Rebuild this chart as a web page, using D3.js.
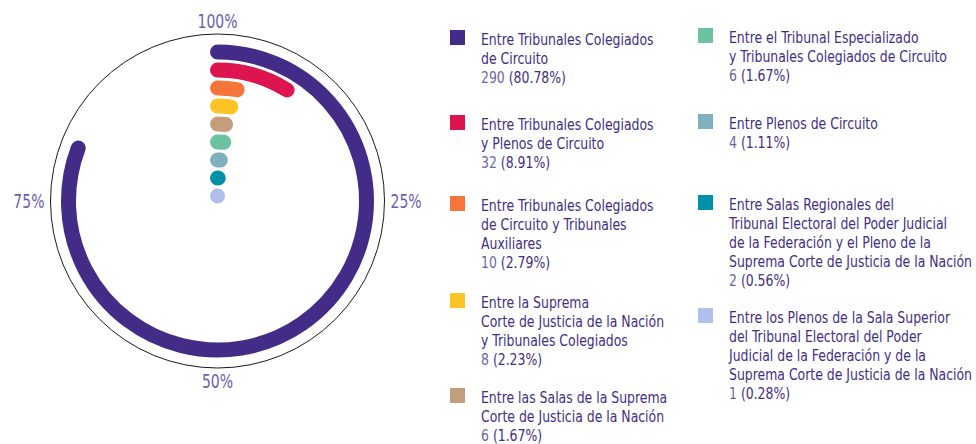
<!DOCTYPE html>
<html>
	<head>
		<meta charset="UTF-8">
		<script src="https://d3js.org/d3.v7.min.js"></script>
		<style>
			body { margin: 0; background: #fff; }
			text { font-family: "DejaVu Sans Condensed", "DejaVu Sans", sans-serif; font-stretch: condensed; }
		</style>
	</head>
	<body>
		<svg width="976" height="444"></svg>
		<script>
			// data
			var labels = [
				["Entre Tribunales Colegiados", "de Circuito"],
				["Entre Tribunales Colegiados", "y Plenos de Circuito"],
				["Entre Tribunales Colegiados", "de Circuito y Tribunales", "Auxiliares"],
				["Entre la Suprema", "Corte de Justicia de la Nación", "y Tribunales Colegiados"],
				["Entre las Salas de la Suprema", "Corte de Justicia de la Nación"],
				["Entre el Tribunal Especializado", "y Tribunales Colegiados de Circuito"],
				["Entre Plenos de Circuito"],
				["Entre Salas Regionales del", "Tribunal Electoral del Poder Judicial", "de la Federación y el Pleno de la", "Suprema Corte de Justicia de la Nación"],
				["Entre los Plenos de la Sala Superior", "del Tribunal Electoral del Poder", "Judicial de la Federación y de la", "Suprema Corte de Justicia de la Nación"]
			];
			var counts = [290, 32, 10, 8, 6, 6, 4, 2, 1];
			var percents = [80.78, 8.91, 2.79, 2.23, 1.67, 1.67, 1.11, 0.56, 0.28];
			var colors = ["#432c87", "#dc1450", "#f5753b", "#fec325", "#c49e7b", "#6cc29f", "#7eb0bd", "#0091aa", "#b3bfeb"];
			var tickValues = [0, 25, 50, 75];
			var tickLabels = ["100%", "25%", "50%", "75%"];

			// layout
			var cx = 217.5, cy = 201, R = 167;
			var barWidth = 15;
			var legendCols = [{sw: 450, tx: 481}, {sw: 698, tx: 730}];
			var legendRows = [45, 130, 211, 308, 403, 43, 129, 210, 323];
			var lineH = 19;
			var squeeze = 0.84;   // fake a condensed face

			var svg = d3.select("svg");

			var angle = d3.scaleLinear().domain([0, 100]).range([0, 2 * Math.PI]);
			var radius = d3.scalePoint().domain(d3.range(counts.length)).range([149, 5]);

			svg.append("circle")
				.attr("cx", cx).attr("cy", cy).attr("r", R)
				.attr("fill", "none").attr("stroke", "#1a1a1a").attr("stroke-width", 1);

			// bars as stroked arcs with round caps
			svg.append("g").selectAll("path")
				.data(percents)
				.enter().append("path")
				.attr("d", function(d, i) {
					var p = d3.path();
					var r = radius(i);
					p.arc(cx, cy, r, -Math.PI / 2, angle(d) - Math.PI / 2);
					return p.toString();
				})
				.attr("fill", "none")
				.attr("stroke", function(d, i) { return colors[i]; })
				.attr("stroke-width", barWidth)
				.attr("stroke-linecap", "round");

			// ticks around the circle
			svg.append("g").selectAll("text")
				.data(tickValues)
				.enter().append("text")
				.attr("transform", function(d) {
					var a = angle(d);
					var x = cx + (R + 6) * Math.sin(a);
					var y = cy - (R + 6 + 7 * Math.abs(Math.cos(a))) * Math.cos(a);
					return "translate(" + x + "," + y + ") scale(0.82,1)";
				})
				.attr("text-anchor", function(d) {
					var s = Math.sin(angle(d));
					return s > 0.1 ? "start" : (s < -0.1 ? "end" : "middle");
				})
				.attr("dominant-baseline", "central")
				.attr("fill", "#6a5fb3")
				.attr("font-size", 19)
				.text(function(d, i) { return tickLabels[i]; });

			// legend
			var items = svg.append("g").selectAll("g")
				.data(labels)
				.enter().append("g")
				.attr("transform", function(d, i) {
					var col = legendCols[i < 5 ? 0 : 1];
					return "translate(" + col.sw + "," + legendRows[i] + ")";
				});

			items.append("rect")
				.attr("x", 0).attr("y", -15)
				.attr("width", 15).attr("height", 15)
				.attr("fill", function(d, i) { return colors[i]; });

			var txt = items.append("text")
				.attr("transform", "translate(31,0) scale(" + squeeze + ",1)")
				.attr("font-size", 16.5)
				.attr("fill", "#3f2e86");

			txt.each(function(d, i) {
				var t = d3.select(this);
				d.forEach(function(line, j) {
					t.append("tspan").attr("x", 0).attr("y", j * lineH).text(line);
				});
				var last = t.append("tspan").attr("x", 0).attr("y", d.length * lineH);
				last.append("tspan").attr("fill", "#6c64a8").attr("font-weight", 300).text(counts[i] + " ");
				last.append("tspan").text("(" + percents[i].toFixed(2) + "%)");
			});
		</script>
	</body>
</html>
